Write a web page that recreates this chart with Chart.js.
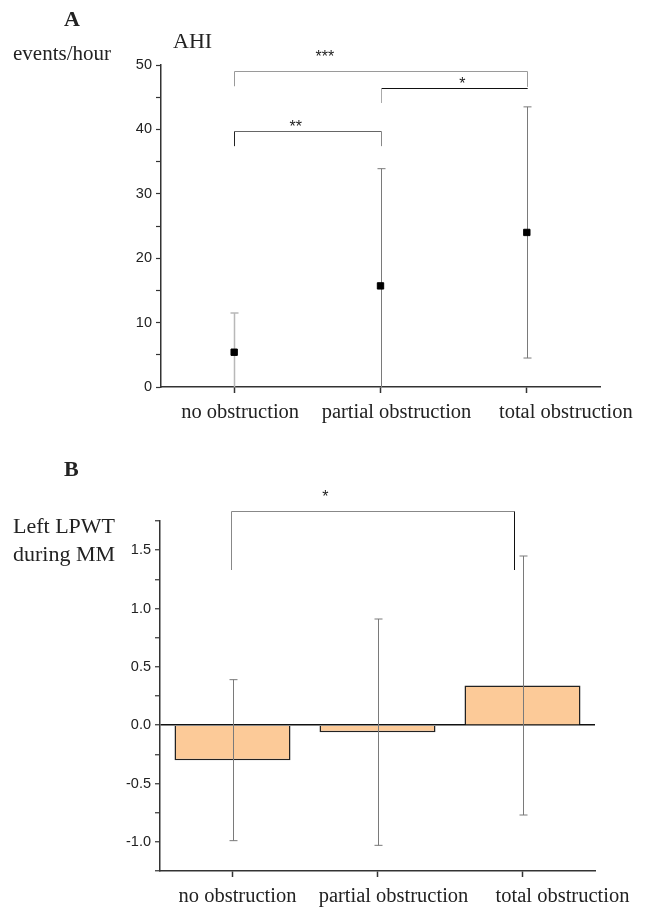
<!DOCTYPE html>
<html>
<head>
<meta charset="utf-8">
<script src="https://cdn.jsdelivr.net/npm/chart.js@4/dist/chart.umd.min.js"></script>
<style>
  html, body { margin: 0; padding: 0; background: #fff; }
  #page { position: relative; width: 646px; height: 911px; overflow: hidden; }
  canvas { position: absolute; left: 0; }
  .txt { position: absolute; font-family: 'Liberation Serif', 'Times New Roman', serif; color: #222; line-height: 1; white-space: nowrap; }
  .panel { font-weight: bold; font-size: 22px; }
</style>
</head>
<body>
<div id="page">
  <canvas id="chart-a" width="646" height="440" style="top:0"></canvas>
  <canvas id="chart-b" width="646" height="471" style="top:440px"></canvas>
  <div class="txt panel" style="left:64px; top:8px">A</div>
  <div class="txt" style="left:173px; top:30px; font-size:22px">AHI</div>
  <div class="txt" style="left:13px; top:43px; font-size:21px">events/hour</div>
  <div class="txt panel" style="left:64px; top:458px">B</div>
  <div class="txt" style="left:13px; top:515px; font-size:22px">Left LPWT</div>
  <div class="txt" style="left:13px; top:543px; font-size:22px">during MM</div>
</div>
<script>
// categories shared by both panels
const groups = ['no obstruction', 'partial obstruction', 'total obstruction'];

// panel A: AHI (events/hour), mean and SD
const ahiMean = [5.4, 15.7, 24.0];
const ahiSd = [6.1, 18.2, 19.5];
const ahiTicks = [0, 10, 20, 30, 40, 50];

// panel B: left LPWT during MM, mean and SD
const lpwtMean = [-0.30, -0.06, 0.34];
const lpwtSd = [0.69, 0.97, 1.11];
const lpwtTicks = [-1.0, -0.5, 0.0, 0.5, 1.0, 1.5];

// significance brackets: from/to category index, bar level, leg ends, label
const ahiBrackets = [
  { from: 0, to: 2, y: 49.1, leftEnd: 46.7, rightEnd: 46.6, label: '***', labelX: 0.62, labelY: 51.9 },
  { from: 0, to: 1, y: 39.75, leftEnd: 37.4, rightEnd: 37.4, label: '**', labelX: 0.42, labelY: 41.0 },
  { from: 1, to: 2, y: 46.4, leftEnd: 44.1, rightEnd: 46.4, label: '*', labelX: 1.56, labelY: 47.6 }
];
const lpwtBrackets = [
  { from: -0.01, to: 1.94, y: 1.836, leftEnd: 1.33, rightEnd: 1.33, label: '*', labelX: 0.64, labelY: 1.99 }
];

const SANS = "'Liberation Sans', Arial, sans-serif";
const SERIF = "'Liberation Serif', 'Times New Roman', serif";
const AXIS = '#333';

function drawErrorBars(chart, opts) {
  const { ctx, chartArea } = chart;
  const xs = chart.scales.x, ys = chart.scales.y;
  ctx.save();
  ctx.beginPath();
  ctx.rect(chartArea.left, chartArea.top - 1, chartArea.right - chartArea.left, chartArea.bottom - chartArea.top + 1);
  ctx.clip();
  opts.mean.forEach((m, i) => {
    const x = Math.round(xs.getPixelForValue(i)) + 0.5;
    const top = ys.getPixelForValue(m + opts.sd[i]);
    const bot = ys.getPixelForValue(m - opts.sd[i]);
    ctx.strokeStyle = opts.colors[i];
    ctx.lineWidth = opts.widths[i];
    ctx.beginPath();
    ctx.moveTo(x, top); ctx.lineTo(x, bot);
    ctx.moveTo(x - 4, top); ctx.lineTo(x + 4, top);
    ctx.moveTo(x - 4, bot); ctx.lineTo(x + 4, bot);
    ctx.stroke();
  });
  ctx.restore();
}

const errorBarPlugin = {
  id: 'errorBars',
  beforeDatasetsDraw(chart, args, opts) { if (opts.under) drawErrorBars(chart, opts); },
  afterDatasetsDraw(chart, args, opts) { if (!opts.under) drawErrorBars(chart, opts); }
};

const bracketPlugin = {
  id: 'brackets',
  afterDraw(chart, args, opts) {
    const { ctx } = chart;
    const xs = chart.scales.x, ys = chart.scales.y;
    ctx.save();
    ctx.lineWidth = 1;
    opts.items.forEach((b, k) => {
      const st = opts.styles[k];
      const x1 = Math.round(xs.getPixelForValue(b.from)) + 0.5;
      const x2 = Math.round(xs.getPixelForValue(b.to)) + 0.5;
      const y = Math.round(ys.getPixelForValue(b.y)) + 0.5;
      const seg = (color, ax, ay, bx, by) => {
        ctx.strokeStyle = color;
        ctx.beginPath(); ctx.moveTo(ax, ay); ctx.lineTo(bx, by); ctx.stroke();
      };
      seg(st.top, x1, y, x2, y);
      seg(st.left, x1, y, x1, ys.getPixelForValue(b.leftEnd));
      seg(st.right, x2, y, x2, ys.getPixelForValue(b.rightEnd));
      ctx.fillStyle = '#222';
      ctx.font = '16px ' + SANS;
      ctx.textAlign = 'center';
      ctx.textBaseline = 'alphabetic';
      ctx.fillText(b.label, xs.getPixelForValue(b.labelX), ys.getPixelForValue(b.labelY) + 9);
    });
    ctx.restore();
  }
};

const categoryLabelPlugin = {
  id: 'catLabels',
  afterDraw(chart, args, opts) {
    const { ctx, chartArea } = chart;
    const xs = chart.scales.x;
    ctx.save();
    ctx.fillStyle = '#222';
    ctx.font = '20.5px ' + SERIF;
    ctx.textAlign = 'center';
    ctx.textBaseline = 'middle';
    groups.forEach((g, i) => {
      ctx.fillText(g, xs.getPixelForValue(i) + opts.shift[i], chartArea.bottom + 26);
    });
    ctx.restore();
  }
};

function xAxis(height) {
  return {
    type: 'category',
    offset: true,
    afterFit: s => { s.height = height; },
    border: { display: true, color: AXIS, width: 1.5 },
    grid: { offset: false, drawOnChartArea: false, tickLength: 6, tickColor: AXIS, tickWidth: 1.5 },
    ticks: { display: false }
  };
}

function yTicks(shown, digits) {
  return {
    color: '#222',
    padding: 4,
    font: { family: SANS, size: 14.5 },
    autoSkip: false,
    callback: v => {
      const hit = shown.find(t => Math.abs(t - v) < 1e-6);
      return hit === undefined ? '' : hit.toFixed(digits);
    }
  };
}

// panel A: mean AHI with SD whiskers
new Chart(document.getElementById('chart-a'), {
  type: 'line',
  data: {
    labels: groups,
    datasets: [{
      data: ahiMean, showLine: false,
      pointStyle: 'rect', pointRadius: 4.5, pointHoverRadius: 4.5,
      pointBackgroundColor: '#000', pointBorderColor: '#000', pointBorderWidth: 1
    }]
  },
  options: {
    responsive: false,
    animation: false,
    layout: { padding: { left: 111, right: 46, top: 65, bottom: 0 } },
    plugins: {
      legend: { display: false },
      tooltip: { enabled: false },
      errorBars: { under: true, mean: ahiMean, sd: ahiSd, colors: ['#b8b8b8', '#7a7a7a', '#7a7a7a'], widths: [1.5, 1, 1] },
      brackets: {
        items: ahiBrackets,
        styles: [
          { top: '#9a9a9a', left: '#9a9a9a', right: '#9a9a9a' },
          { top: '#666', left: '#222', right: '#888' },
          { top: '#111', left: '#aaa', right: '#111' }
        ]
      },
      catLabels: { shift: [6, 16, 39] }
    },
    scales: {
      x: xAxis(53),
      y: {
        min: 0, max: 50,
        afterFit: s => { s.width = 50; },
        border: { display: true, color: AXIS, width: 1.5 },
        grid: { drawOnChartArea: false, tickLength: 5, tickColor: AXIS, tickWidth: 1.2 },
        ticks: { stepSize: 5, ...yTicks(ahiTicks, 0) }
      }
    }
  },
  plugins: [errorBarPlugin, bracketPlugin, categoryLabelPlugin]
});

// panel B: mean LPWT bars with SD whiskers
new Chart(document.getElementById('chart-b'), {
  type: 'bar',
  data: {
    labels: groups,
    datasets: [{
      data: lpwtMean,
      backgroundColor: '#FCCA98',
      borderColor: '#222',
      borderWidth: 1.5,
      categoryPercentage: 1,
      barPercentage: 0.8
    }]
  },
  options: {
    responsive: false,
    animation: false,
    layout: { padding: { left: 110, right: 51, top: 81, bottom: 0 } },
    plugins: {
      legend: { display: false },
      tooltip: { enabled: false },
      errorBars: { under: false, mean: lpwtMean, sd: lpwtSd, colors: ['#7a7a7a', '#7a7a7a', '#7a7a7a'], widths: [1, 1, 1] },
      brackets: {
        items: lpwtBrackets,
        styles: [{ top: '#888', left: '#888', right: '#111' }]
      },
      catLabels: { shift: [5, 16, 40] }
    },
    scales: {
      x: xAxis(40),
      y: {
        min: -1.25, max: 1.75,
        afterFit: s => { s.width = 50; },
        border: { display: true, color: AXIS, width: 1.5 },
        grid: {
          drawOnChartArea: true,
          color: c => (c.tick && Math.abs(c.tick.value) < 1e-6 ? '#111' : 'rgba(0,0,0,0)'),
          lineWidth: 1.5,
          tickLength: 5, tickColor: AXIS, tickWidth: 1.2
        },
        ticks: { stepSize: 0.25, ...yTicks(lpwtTicks, 1) }
      }
    }
  },
  plugins: [errorBarPlugin, bracketPlugin, categoryLabelPlugin]
});
</script>
</body>
</html>
